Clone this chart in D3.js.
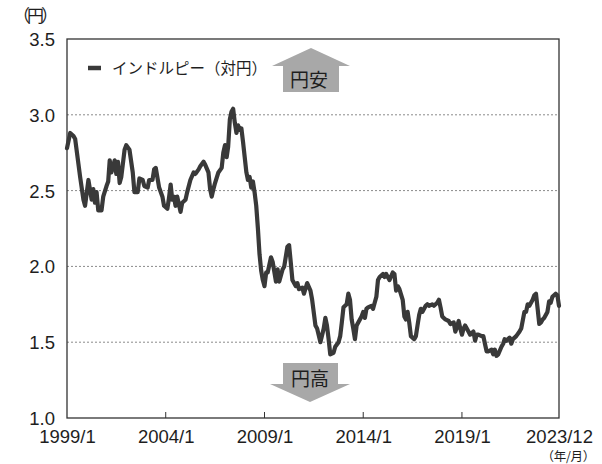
<!DOCTYPE html>
<html><head><meta charset="utf-8">
<script src="https://cdn.jsdelivr.net/npm/d3@7/dist/d3.min.js"></script>
<style>
html,body{margin:0;padding:0;background:#fff;}
svg{display:block;font-family:"Liberation Sans",Arial,"Noto Sans CJK JP",sans-serif;}
</style></head>
<body><svg id="c" width="602" height="464"></svg>
<script>
const dates = ["1999/01","1999/03","1999/05","1999/06","1999/09","1999/11","1999/12","2000/02","2000/04","2000/05","2000/06","2000/07","2000/08","2000/10","2000/11",
"2001/01","2001/02","2001/03","2001/04","2001/06","2001/07","2001/08","2001/09","2001/10","2001/12","2002/01","2002/03","2002/05","2002/06","2002/08","2002/09","2002/11","2002/12",
"2003/02","2003/03","2003/05","2003/06","2003/07","2003/09","2003/11","2003/12","2004/02","2004/03","2004/04","2004/05","2004/06","2004/07","2004/08","2004/10","2004/11",
"2005/01","2005/02","2005/04","2005/06","2005/07","2005/09","2005/10","2005/12","2006/01","2006/03","2006/04","2006/05","2006/06","2006/07","2006/09","2006/11","2006/12",
"2007/01","2007/02","2007/03","2007/04","2007/05","2007/06","2007/07","2007/08","2007/09","2007/10","2007/11","2007/12",
"2008/01","2008/02","2008/03","2008/04","2008/05","2008/06","2008/07","2008/08","2008/09","2008/10","2008/11","2008/12",
"2009/01","2009/02","2009/03","2009/05","2009/06","2009/08","2009/09","2009/10","2009/12",
"2010/01","2010/03","2010/04","2010/05","2010/06","2010/08","2010/09","2010/10","2010/12",
"2011/01","2011/03","2011/05","2011/06","2011/08","2011/09","2011/11",
"2012/01","2012/02","2012/03","2012/04","2012/05","2012/07","2012/08","2012/10","2012/11","2012/12",
"2013/01","2013/03","2013/04","2013/05","2013/06","2013/07","2013/08","2013/09","2013/10","2013/12",
"2014/01","2014/02","2014/03","2014/04","2014/06","2014/07","2014/08","2014/09","2014/10","2014/11",
"2015/01","2015/02","2015/03","2015/05","2015/07","2015/08","2015/09","2015/10","2015/11",
"2016/01","2016/02","2016/03","2016/04","2016/05","2016/06","2016/07","2016/08","2016/09","2016/10","2016/11","2016/12",
"2017/01","2017/03","2017/04","2017/05","2017/07","2017/08","2017/10","2017/11","2017/12",
"2018/01","2018/03","2018/05","2018/06","2018/08","2018/09","2018/10","2018/11","2018/12",
"2019/01","2019/02","2019/03","2019/04","2019/05","2019/06","2019/08","2019/09","2019/10","2019/11",
"2020/01","2020/02","2020/03","2020/04","2020/05","2020/07","2020/08","2020/09","2020/10","2020/11",
"2021/01","2021/02","2021/03","2021/04","2021/06","2021/07","2021/08","2021/09","2021/10","2021/12",
"2022/01","2022/03","2022/04","2022/05","2022/06","2022/08","2022/09","2022/10","2022/11","2022/12",
"2023/01","2023/02","2023/03","2023/05","2023/06","2023/07","2023/08","2023/10","2023/11","2023/12"];
const inrJpy = [2.78,2.88,2.86,2.84,2.59,2.44,2.40,2.57,2.44,2.51,2.42,2.49,2.37,2.37,2.46,
2.53,2.56,2.70,2.62,2.70,2.61,2.69,2.55,2.59,2.77,2.80,2.77,2.62,2.49,2.49,2.58,2.57,2.53,
2.52,2.57,2.57,2.64,2.65,2.52,2.46,2.40,2.38,2.45,2.54,2.44,2.46,2.40,2.46,2.36,2.42,
2.44,2.49,2.57,2.62,2.61,2.64,2.66,2.69,2.67,2.62,2.51,2.46,2.51,2.55,2.62,2.65,2.75,
2.80,2.72,2.79,2.97,3.02,3.04,2.95,2.88,2.93,2.90,2.91,2.82,
2.72,2.62,2.57,2.59,2.52,2.56,2.49,2.40,2.25,2.08,1.97,1.91,
1.87,1.96,1.96,2.06,2.03,1.90,1.98,1.90,1.98,
2.00,2.13,2.14,2.03,1.91,1.87,1.89,1.85,1.86,
1.82,1.89,1.84,1.78,1.61,1.59,1.50,
1.59,1.66,1.61,1.52,1.42,1.43,1.47,1.50,1.54,1.63,
1.73,1.75,1.82,1.78,1.65,1.59,1.52,1.61,1.63,1.67,
1.70,1.66,1.72,1.73,1.74,1.72,1.76,1.80,1.91,1.93,
1.95,1.93,1.95,1.91,1.96,1.95,1.84,1.87,1.85,
1.78,1.67,1.65,1.70,1.63,1.54,1.53,1.52,1.54,1.61,1.68,1.72,
1.70,1.74,1.75,1.74,1.75,1.74,1.76,1.78,1.73,
1.67,1.65,1.64,1.62,1.63,1.57,1.60,1.64,1.59,
1.55,1.59,1.61,1.59,1.57,1.55,1.57,1.51,1.55,1.55,
1.54,1.54,1.49,1.44,1.44,1.45,1.42,1.45,1.41,1.42,
1.47,1.49,1.52,1.51,1.53,1.49,1.52,1.53,1.54,1.57,
1.59,1.70,1.70,1.75,1.74,1.78,1.81,1.82,1.72,1.62,
1.63,1.65,1.66,1.70,1.77,1.76,1.80,1.82,1.81,1.74];
const yTicks = [1.0,1.5,2.0,2.5,3.0,3.5];
const xTickLabels = ["1999/1","2004/1","2009/1","2014/1","2019/1","2023/12"];
const seriesName = "インドルピー（対円）";
const unitY = "（円）";
const unitX = "（年/月）";
const upLabel = "円安";
const downLabel = "円高";

const parse = d3.timeParse("%Y/%m");
const data = dates.map((d,i)=>({t:parse(d), v:inrJpy[i]}));
const L=67, R=559, T=39, B=418;
const x = d3.scaleTime().domain([parse("1999/01"), parse("2023/12")]).range([L,R]);
const y = d3.scaleLinear().domain([1.0,3.5]).range([B,T]);
const svg = d3.select("#c");
const ink = "#1e1e1e";

// grid
svg.append("g").selectAll("line").data(yTicks.filter(v=>v>1 && v<3.5)).join("line")
  .attr("x1",L).attr("x2",R).attr("y1",d=>y(d)).attr("y2",d=>y(d))
  .attr("stroke","#8a8a8a").attr("stroke-width",1).attr("stroke-dasharray","2,2");

// y axis labels
svg.append("g").selectAll("text").data(yTicks).join("text")
  .attr("x",55).attr("y",d=>y(d)+7).attr("text-anchor","end")
  .attr("font-size",18.5).attr("fill",ink).text(d=>d.toFixed(1));
svg.append("text").attr("x",13).attr("y",22).attr("font-size",17).attr("fill",ink)
  .attr("font-family","Noto Sans CJK JP").attr("letter-spacing",-3).text(unitY);

// x axis ticks via axis
const xt = xTickLabels.map(s=>parse(s.replace(/\/(\d)$/,"/0$1")));
const xAxis = d3.axisBottom(x).tickValues(xt).tickSize(0).tickPadding(0)
  .tickFormat((d,i)=>xTickLabels[i]);
const gx = svg.append("g").attr("transform",`translate(0,${B})`).call(xAxis);
gx.select(".domain").remove();
gx.selectAll("text").attr("dy",null).attr("y",25).attr("font-size",18.5).attr("fill",ink)
  .attr("font-family","Liberation Sans, Arial, sans-serif");
svg.append("g").selectAll("line").data(xt.slice(1,-1)).join("line")
  .attr("x1",d=>x(d)).attr("x2",d=>x(d)).attr("y1",B).attr("y2",B-6)
  .attr("stroke","#333").attr("stroke-width",1);
svg.append("text").attr("x",595).attr("y",460.5).attr("text-anchor","end")
  .attr("font-size",12.5).attr("fill",ink).attr("font-family","Noto Sans CJK JP")
  .attr("letter-spacing",-0.3).text(unitX);

// frame
svg.append("rect").attr("x",L).attr("y",T).attr("width",R-L).attr("height",B-T)
  .attr("fill","none").attr("stroke","#333").attr("stroke-width",1.3);

// line
svg.append("path").datum(data)
  .attr("d",d3.line().x(d=>x(d.t)).y(d=>y(d.v)))
  .attr("fill","none").attr("stroke","#393939").attr("stroke-width",4.2)
  .attr("stroke-linejoin","round").attr("stroke-linecap","round");

// legend
svg.append("line").attr("x1",88).attr("x2",101).attr("y1",68).attr("y2",68)
  .attr("stroke","#393939").attr("stroke-width",4.5);
svg.append("text").attr("x",112).attr("y",74).attr("font-size",15.5).attr("fill",ink)
  .attr("font-family","Noto Sans CJK JP").text(seriesName);

// arrows
const gray = "#a8a8a8";
svg.append("path").attr("fill",gray)
  .attr("d","M311,48 L350,66 L339,66 L339,92 L283,92 L283,66 L272,66 Z");
svg.append("text").attr("x",309).attr("y",87).attr("text-anchor","middle")
  .attr("font-size",19).attr("fill",ink).attr("font-family","Noto Sans CJK JP").text(upLabel);
svg.append("path").attr("fill",gray)
  .attr("d","M283,363 L338,363 L338,384 L350,384 L310,402 L270,384 L283,384 Z");
svg.append("text").attr("x",310).attr("y",386).attr("text-anchor","middle")
  .attr("font-size",19).attr("fill",ink).attr("font-family","Noto Sans CJK JP").text(downLabel);
</script></body></html>
